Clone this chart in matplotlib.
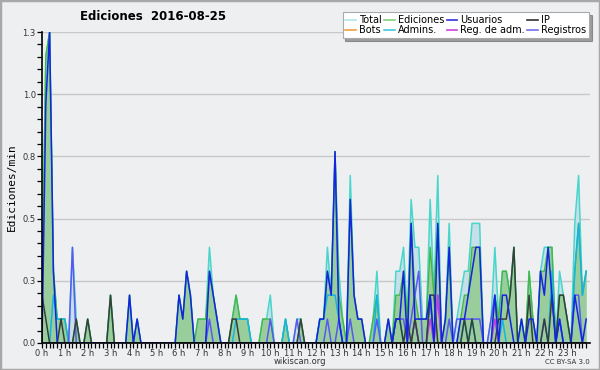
import numpy as np
import matplotlib
matplotlib.use("Agg")
import matplotlib.pyplot as plt
from matplotlib.lines import Line2D
from matplotlib.patches import Rectangle

# edits per 10 minute slot, one row per hour (6 slots)
total = [
    2, 12, 13, 3, 1, 1,   1, 0, 4, 1, 0, 0,   1, 0, 0, 0, 0, 0,   2, 0, 0, 0, 0, 2,
    0, 1, 0, 0, 0, 0,     0, 0, 0, 0, 0, 0,   2, 1, 3, 2, 0, 1,   1, 1, 4, 2, 1, 0,
    0, 0, 1, 2, 1, 1,     1, 0, 0, 0, 1, 1,   2, 0, 0, 0, 1, 0,   0, 1, 1, 0, 0, 0,
    0, 1, 1, 4, 2, 8,     3, 1, 0, 7, 2, 1,   1, 0, 0, 1, 3, 0,   0, 1, 0, 3, 3, 4,
    1, 6, 4, 4, 1, 1,     6, 2, 7, 0, 1, 5,   0, 1, 2, 3, 3, 5,   5, 5, 0, 0, 1, 4,
    1, 3, 3, 2, 4, 0,     1, 0, 3, 1, 0, 3,   4, 4, 4, 0, 3, 2,   1, 0, 5, 7, 2, 3,
]
edits = [
    2, 12, 13, 3, 1, 1,   1, 0, 0, 1, 0, 0,   1, 0, 0, 0, 0, 0,   2, 0, 0, 0, 0, 2,
    0, 1, 0, 0, 0, 0,     0, 0, 0, 0, 0, 0,   2, 1, 3, 2, 0, 1,   1, 1, 3, 2, 1, 0,
    0, 0, 1, 2, 1, 1,     1, 0, 0, 0, 1, 1,   1, 0, 0, 0, 1, 0,   0, 0, 1, 0, 0, 0,
    0, 1, 1, 3, 2, 8,     2, 1, 0, 6, 2, 1,   1, 0, 0, 1, 2, 0,   0, 1, 0, 2, 2, 3,
    1, 5, 2, 1, 1, 1,     4, 2, 5, 0, 1, 4,   0, 0, 1, 2, 2, 4,   4, 4, 0, 0, 0, 2,
    1, 3, 3, 2, 4, 0,     1, 0, 3, 1, 0, 3,   3, 4, 4, 0, 2, 2,   1, 0, 3, 5, 2, 3,
]
users = [
    0, 10, 13, 3, 0, 0,   0, 0, 0, 0, 0, 0,   0, 0, 0, 0, 0, 0,   0, 0, 0, 0, 0, 2,
    0, 1, 0, 0, 0, 0,     0, 0, 0, 0, 0, 0,   2, 1, 3, 2, 0, 0,   0, 0, 3, 2, 1, 0,
    0, 0, 0, 0, 0, 0,     0, 0, 0, 0, 0, 0,   0, 0, 0, 0, 0, 0,   0, 0, 0, 0, 0, 0,
    0, 1, 1, 3, 2, 8,     1, 0, 0, 6, 2, 1,   1, 0, 0, 0, 0, 0,   0, 1, 0, 1, 1, 3,
    0, 5, 1, 1, 1, 1,     2, 0, 5, 0, 1, 4,   0, 0, 1, 1, 2, 3,   4, 4, 0, 0, 0, 2,
    0, 2, 2, 1, 0, 0,     1, 0, 1, 1, 0, 3,   2, 4, 2, 0, 1, 0,   0, 0, 2, 1, 0, 1,
]
ip = [
    2, 1, 0, 0, 0, 1,     0, 0, 0, 1, 0, 0,   1, 0, 0, 0, 0, 0,   2, 0, 0, 0, 0, 0,
    0, 0, 0, 0, 0, 0,     0, 0, 0, 0, 0, 0,   0, 0, 0, 0, 0, 0,   0, 0, 0, 0, 0, 0,
    0, 0, 1, 1, 0, 0,     0, 0, 0, 0, 0, 0,   0, 0, 0, 0, 0, 0,   0, 0, 1, 0, 0, 0,
    0, 0, 0, 0, 0, 0,     0, 0, 0, 0, 0, 0,   0, 0, 0, 0, 0, 0,   0, 0, 0, 1, 1, 0,
    1, 0, 1, 0, 0, 0,     2, 2, 0, 0, 0, 0,   0, 0, 0, 1, 0, 1,   0, 0, 0, 0, 0, 0,
    1, 1, 1, 2, 4, 0,     0, 0, 2, 0, 0, 0,   1, 0, 2, 0, 2, 2,   1, 0, 0, 0, 0, 0,
]
bots = [0] * 144
admins = [
    0, 0, 0, 2, 1, 1,     1, 0, 0, 0, 0, 0,   0, 0, 0, 0, 0, 0,   0, 0, 0, 0, 0, 0,
    0, 0, 0, 0, 0, 0,     0, 0, 0, 0, 0, 0,   0, 0, 0, 0, 0, 0,   0, 0, 0, 0, 0, 0,
    0, 0, 0, 1, 1, 1,     1, 0, 0, 0, 0, 0,   0, 0, 0, 0, 1, 0,   0, 0, 0, 0, 0, 0,
    0, 1, 1, 2, 2, 2,     1, 0, 0, 0, 0, 0,   0, 0, 0, 0, 2, 0,   0, 0, 0, 1, 1, 0,
    0, 0, 1, 0, 0, 0,     2, 0, 0, 0, 0, 0,   0, 0, 0, 1, 0, 1,   0, 0, 0, 0, 0, 0,
    0, 1, 0, 0, 0, 0,     0, 0, 0, 0, 0, 0,   0, 0, 3, 0, 1, 0,   0, 0, 3, 5, 2, 3,
]
admin_logs = [0] * 96 + [
    0, 0, 1, 0, 0, 0,     1, 0, 2, 0, 0, 0,   0, 0, 0, 0, 0, 0,   0, 0, 0, 0, 0, 1,
] + [0] * 24
logs = [
    0, 0, 0, 0, 0, 0,     0, 0, 4, 0, 0, 0,   0, 0, 0, 0, 0, 0,   0, 0, 0, 0, 0, 0,
    0, 0, 0, 0, 0, 0,     0, 0, 0, 0, 0, 0,   0, 0, 0, 0, 0, 0,   0, 0, 1, 0, 0, 0,
    0, 0, 0, 0, 0, 0,     0, 0, 0, 0, 0, 0,   1, 0, 0, 0, 0, 0,   0, 1, 0, 0, 0, 0,
    0, 0, 0, 1, 0, 0,     1, 0, 0, 1, 0, 0,   0, 0, 0, 0, 1, 0,   0, 0, 0, 1, 1, 1,
    0, 1, 2, 3, 0, 0,     2, 0, 2, 0, 0, 1,   0, 1, 1, 1, 1, 1,   1, 1, 0, 0, 1, 2,
    0, 0, 0, 0, 0, 0,     0, 0, 0, 0, 0, 0,   1, 0, 0, 0, 1, 0,   0, 0, 2, 2, 0, 0,
]

hour_labels = ["%d h" % h for h in range(24)]
ytick_vals = [0, 0.26, 0.52, 0.78, 1.04, 1.3]
ytick_labels = ["0.0", "0.3", "0.5", "0.8", "1.0", "1.3"]

x = np.arange(144) / 6.0
per_min = lambda s: np.array(s) / 10.0

bg = "#eeeff1"
fig = plt.figure(figsize=(6, 3.7), dpi=100, facecolor=bg)
ax = fig.add_axes([42 / 600, 27 / 370, 548 / 600, 311 / 370])
ax.set_facecolor(bg)

# fills
ax.fill_between(x, per_min(total), color="#c6dfe8", lw=0, zorder=1)
ax.fill_between(x, per_min(edits), color="#94cc94", alpha=0.9, lw=0, zorder=2)

ax.plot(x, per_min(bots), color="#f0a030", lw=1, zorder=2)
ax.plot(x, per_min(total), color="#48d6cc", lw=1.1, zorder=3)
ax.plot(x, per_min(edits), color="#44b844", lw=1.0, zorder=3)
ax.plot(x, per_min(admins), color="#18b4e0", lw=1.1, zorder=4)
ax.plot(x, per_min(logs), color="#5858f2", lw=1.1, zorder=4)
ax.plot(x, per_min(admin_logs), color="#c040e0", lw=1.1, zorder=4)
ax.plot(x, per_min(ip), color="#34403a", lw=1.1, zorder=5)
ax.plot(x, per_min(users), color="#1424e0", lw=1.1, zorder=5)

ax.set_xlim(0, 24)
ax.set_ylim(0, 1.3)
ax.set_xticks(range(24))
ax.set_xticklabels(hour_labels)
ax.set_xticks(np.arange(0, 24, 1 / 6.0), minor=True)
ax.set_yticks(ytick_vals)
ax.set_yticklabels(ytick_labels)
ax.set_yticks(np.arange(0, 1.3, 0.052), minor=True)
ax.tick_params(axis="both", which="both", direction="out", labelsize=6,
               colors="#000", labelcolor="#333", pad=1)
ax.tick_params(axis="both", which="both", length=3.5, width=0.9)
ax.grid(axis="y", color="#c8c8c8", lw=1)
ax.set_axisbelow(True)
for s in ["top", "right"]:
    ax.spines[s].set_visible(False)
for s in ["left", "bottom"]:
    ax.spines[s].set_linewidth(1.2)
    ax.spines[s].set_zorder(10)

ax.set_ylabel("Ediciones/min", family="DejaVu Sans Mono", fontsize=8, labelpad=4)

fig.text(153 / 600, 1 - 17 / 370, "Ediciones  2016-08-25", ha="center", va="center",
         fontsize=8.5, fontweight="bold")
fig.text(300 / 600, 1 - 362 / 370, "wikiscan.org", ha="center", va="center",
         fontsize=6, color="#333")
fig.text(590 / 600, 1 - 362 / 370, "CC BY-SA 3.0", ha="right", va="center",
         fontsize=5, color="#333")

handles = [
    Line2D([], [], color="#b0e8e8", lw=1.2, label="Total"),
    Line2D([], [], color="#f0a040", lw=1.2, label="Bots"),
    Line2D([], [], color="#80d080", lw=1.2, label="Ediciones"),
    Line2D([], [], color="#40c8e0", lw=1.2, label="Admins."),
    Line2D([], [], color="#3030e0", lw=1.2, label="Usuarios"),
    Line2D([], [], color="#d040e0", lw=1.2, label="Reg. de adm."),
    Line2D([], [], color="#303030", lw=1.2, label="IP"),
    Line2D([], [], color="#7070f0", lw=1.2, label="Registros"),
]
leg = fig.legend(handles=handles, ncol=4, loc="upper right",
                 bbox_to_anchor=(589 / 600, 1 - 12 / 370), fontsize=7,
                 frameon=True, fancybox=False, shadow=True, framealpha=1,
                 handlelength=1.1, handletextpad=0.3, columnspacing=0.25,
                 labelspacing=0.0, borderpad=0.3, borderaxespad=0)
leg.get_frame().set_edgecolor("#aaaaaa")
leg.get_frame().set_linewidth(0.8)

fig.patches.append(Rectangle((0, 0), 1, 1, transform=fig.transFigure, fill=False,
                             edgecolor="#a8a8a8", lw=2.5))

fig.savefig("out.png", dpi=100, facecolor=bg)
